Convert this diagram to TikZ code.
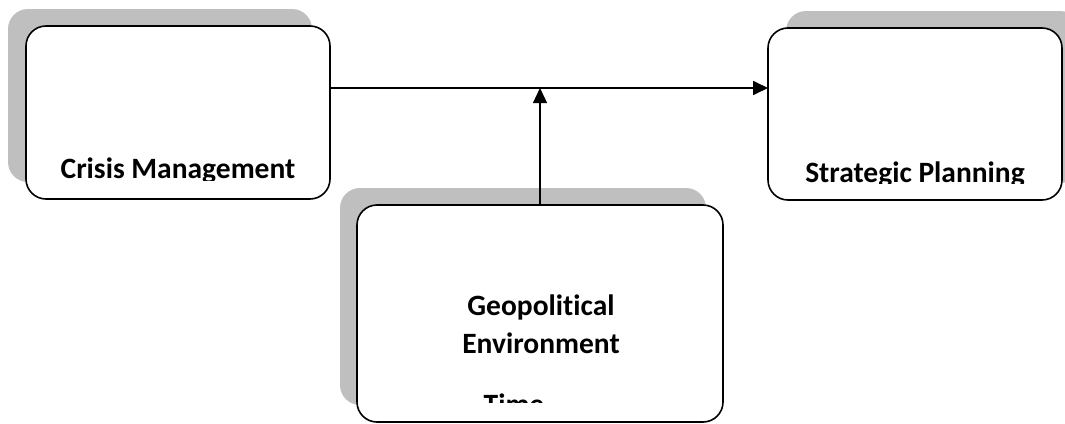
\documentclass[tikz,border=0pt]{standalone}
\usepackage{fontspec}
\setmainfont[Ligatures=CommonOff]{Carlito}
\usetikzlibrary{positioning,shadows,arrows.meta}

\begin{document}
\begin{tikzpicture}[x=1pt, y=-1pt, every node/.style={inner sep=0pt, outer sep=0pt}, every edge/.style={draw=black, line width=1.8pt, -{Triangle[length=15pt, width=14pt]}},
		box/.style={rectangle, draw=black, line width=1.6pt, fill=white, rounded corners=20pt, general shadow={fill=black!25, shadow xshift=#1, shadow yshift=17pt}},
		label/.style={font=\fontsize{29.5}{38}\selectfont\bfseries, align=center, anchor=base}]
				\useasboundingbox (0,0) rectangle (1065,423);
				
				\node[box=-18pt, minimum width=304pt, minimum height=173pt] (crisis) at (178,112.5){};
				\node[box=18pt, minimum width=294pt, minimum height=172pt] (strategic) at (915,114){};
				\node[box=-17pt, minimum width=366pt, minimum height=217pt] (geo) at (540,313.5){};
				
				\begin{scope}
				\clip (26,26) rectangle (330,180);
				\node[label] (crisistext) at (178,178){Crisis Management};
				\end{scope}
				\begin{scope}
				\clip (768,28) rectangle (1062,183);
				\node[label] (strategictext) at (915,182){Strategic Planning};
				\end{scope}
				\begin{scope}
				\clip (357,205) rectangle (723,402);
				\node[label] (geotext) at (541,353){Geopolitical\\Environment};
				\node[label] (timetext) at (514,414){Time};
				\end{scope}
				
				\coordinate (meet) at (540,88);
				\path (crisis.east |- meet) edge (strategic.west |- meet);
				\path (geo.north) edge[line width=1.3pt] (meet);
				\end{tikzpicture}
\end{document}
